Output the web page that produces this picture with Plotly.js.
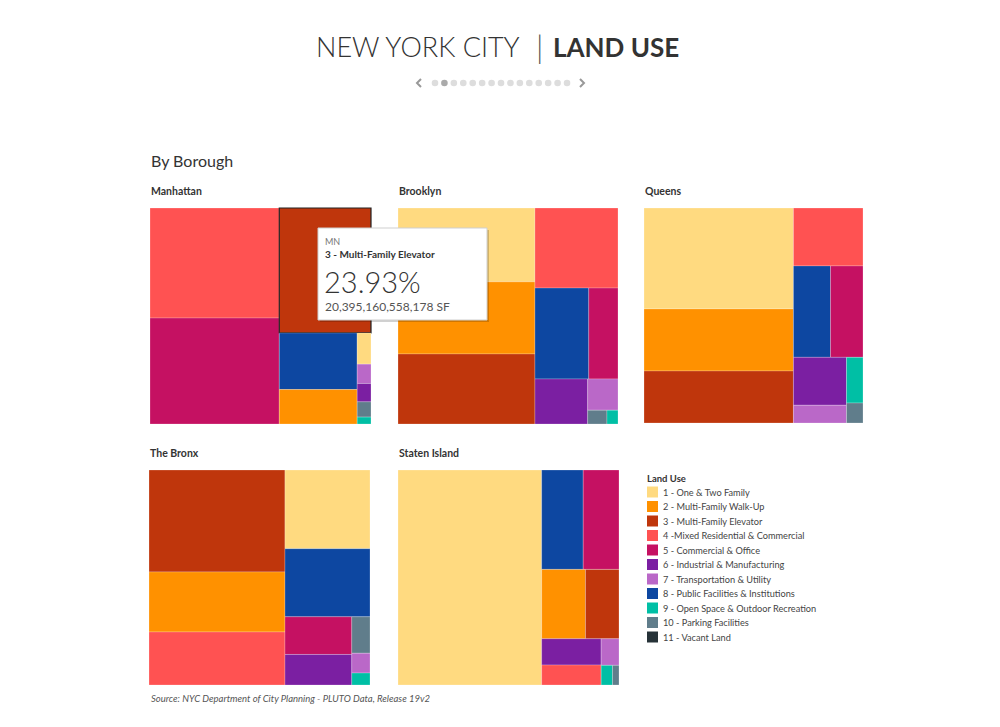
<!DOCTYPE html>
<html>
<head>
<meta charset="utf-8">
<script src="https://cdn.plot.ly/plotly-3.0.1.min.js"></script>
<style>html,body{margin:0;padding:0;background:#fff;}#chart{width:1000px;height:727px;}</style>
</head>
<body>
<div id="chart"></div>
<script>
// ---- Data ----
const landUse = [
  "1 - One & Two Family",
  "2 - Multi-Family Walk-Up",
  "3 - Multi-Family Elevator",
  "4 -Mixed Residential & Commercial",
  "5 - Commercial & Office",
  "6 - Industrial & Manufacturing",
  "7 - Transportation & Utility",
  "8 - Public Facilities & Institutions",
  "9 - Open Space & Outdoor Recreation",
  "10 - Parking Facilities",
  "11 - Vacant Land"
];
const landUseColors = ["#FFDA80","#FF9100","#BF360C","#FF5252","#C51162","#7B1FA2","#BA68C8","#0D47A1","#00BFA5","#607D8B","#263238"];
const boroughs = ["Manhattan","Brooklyn","Queens","The Bronx","Staten Island"];
// share of floor area (%) by land use 1..11, per borough
const manhattan    = [0.9, 5.6, 23.93, 29.7, 28.6, 0.53, 0.56, 9.2, 0.2, 0.44, 0];
const brooklyn     = [21.3, 20.8, 20.2, 14.0, 5.6, 5.0, 2.0, 10.3, 0.32, 0.56, 0];
const queens       = [32.0, 19.7, 16.5, 8.55, 6.3, 5.4, 2.0, 7.2, 1.6, 0.7, 0];
const bronx        = [14.1, 17.2, 29.2, 15.2, 5.3, 4.3, 0.76, 12.2, 0.46, 1.4, 0];
const statenIsland = [65.1, 6.4, 4.9, 2.5, 7.5, 3.3, 1.0, 8.7, 0.47, 0.27, 0];
const boroughValues = [manhattan, brooklyn, queens, bronx, statenIsland];
const tooltipLines = ["MN", "3 - Multi-Family Elevator", "23.93%", "20,395,160,558,178 SF"];

// ---- Layout (pixel boxes for each treemap) ----
const W = 1000, H = 727;
const boxes = [
  [150, 208, 371, 424],
  [398, 208, 618, 424],
  [644, 208, 863, 423],
  [149, 470, 370, 685],
  [398, 470, 619, 685]
];
const px = x => x / W, py = y => 1 - y / H;
const FONT = "Lato, 'Noto Sans', sans-serif";

const traces = boroughs.map((b, bi) => {
  const vals = boroughValues[bi];
  const lab = [], val = [], col = [], lc = [], lw = [];
  vals.forEach((v, i) => {
    if (v > 0) {
      lab.push(landUse[i]); val.push(v); col.push(landUseColors[i]);
      const hl = (bi === 0 && i === 2);
      lc.push(hl ? "#222" : "rgba(255,255,255,0.28)");
      lw.push(hl ? 1.2 : 0.8);
    }
  });
  const bx = boxes[bi];
  return {
    type: "treemap",
    labels: lab,
    parents: lab.map(() => ""),
    values: val,
    sort: true,
    textinfo: "none",
    hovertemplate: b + "<br>%{label}<br>%{value:.2f}%<extra></extra>",
    marker: {colors: col, line: {color: lc, width: lw}, pad: {t: 0, l: 0, r: 0, b: 0}},
    tiling: {packing: "squarify", squarifyratio: 1.618034, pad: 0},
    pathbar: {visible: false},
    domain: {x: [px(bx[0]), px(bx[2])], y: [py(bx[3]), py(bx[1])]}
  };
});

const annotations = [];
const shapes = [];

// Title
annotations.push({xref: "paper", yref: "paper", x: px(522), y: py(47), xanchor: "right", yanchor: "middle",
  text: "NEW YORK CITY", showarrow: false, font: {family: FONT, size: 27, color: "#333", weight: 300}});
annotations.push({xref: "paper", yref: "paper", x: px(539), y: py(46), xanchor: "center", yanchor: "middle",
  text: "|", showarrow: false, font: {family: FONT, size: 31, color: "#555", weight: 300}});
annotations.push({xref: "paper", yref: "paper", x: px(551), y: py(47), xanchor: "left", yanchor: "middle",
  text: "<b>LAND USE</b>", showarrow: false, font: {family: FONT, size: 26, color: "#333"}});

// Pagination
shapes.push({type: "path", xref: "paper", yref: "paper",
  path: `M ${px(421)} ${py(79)} L ${px(417)} ${py(83)} L ${px(421)} ${py(87)}`,
  line: {color: "#999", width: 2}});
shapes.push({type: "path", xref: "paper", yref: "paper",
  path: `M ${px(580)} ${py(79)} L ${px(584)} ${py(83)} L ${px(580)} ${py(87)}`,
  line: {color: "#999", width: 2}});
for (let i = 0; i < 15; i++) {
  const cx = 435 + i * 9.43, r = 3.3;
  shapes.push({type: "circle", xref: "paper", yref: "paper", x0: px(cx - r), x1: px(cx + r), y0: py(83 + r), y1: py(83 - r),
    fillcolor: i === 1 ? "#aaaaaa" : "#dddddd", line: {width: 0}});
}

// Section title
annotations.push({xref: "paper", yref: "paper", x: px(149), y: py(160), xanchor: "left", yanchor: "middle",
  text: "By Borough", showarrow: false, font: {family: FONT, size: 16, color: "#333"}});

// Borough labels
boroughs.forEach((b, bi) => {
  const bx = boxes[bi];
  annotations.push({xref: "paper", yref: "paper", x: px(bx[0] - 1), y: py(bx[1] - 17), xanchor: "left", yanchor: "middle",
    text: "<b>" + b + "</b>", showarrow: false, font: {family: FONT, size: 10.5, color: "#333"}});
});

// Legend
annotations.push({xref: "paper", yref: "paper", x: px(645), y: py(478), xanchor: "left", yanchor: "middle",
  text: "<b>Land Use</b>", showarrow: false, font: {family: FONT, size: 9.5, color: "#333"}});
landUse.forEach((l, i) => {
  const y = 492 + i * 14.5;
  shapes.push({type: "rect", xref: "paper", yref: "paper", x0: px(647), x1: px(658), y0: py(y + 5.5), y1: py(y - 5.5),
    fillcolor: landUseColors[i], line: {width: 0}});
  annotations.push({xref: "paper", yref: "paper", x: px(661), y: py(y), xanchor: "left", yanchor: "middle",
    text: l, showarrow: false, font: {family: FONT, size: 9.2, color: "#444"}});
});

// Source
annotations.push({xref: "paper", yref: "paper", x: px(149), y: py(698), xanchor: "left", yanchor: "middle",
  text: "<i>Source: NYC Department of City Planning - PLUTO Data, Release 19v2</i>", showarrow: false,
  font: {family: FONT, size: 9.5, color: "#555"}});

// Tooltip
shapes.push({type: "rect", xref: "paper", yref: "paper", x0: px(320), x1: px(489), y0: py(322), y1: py(230),
  fillcolor: "rgba(0,0,0,0.18)", line: {width: 0}});
shapes.push({type: "rect", xref: "paper", yref: "paper", x0: px(318), x1: px(487), y0: py(320), y1: py(228),
  fillcolor: "#ffffff", line: {color: "#cfcfcf", width: 1}});
annotations.push({xref: "paper", yref: "paper", x: px(323), y: py(241), xanchor: "left", yanchor: "middle",
  text: tooltipLines[0], showarrow: false, font: {family: FONT, size: 9, color: "#777"}});
annotations.push({xref: "paper", yref: "paper", x: px(323), y: py(254), xanchor: "left", yanchor: "middle",
  text: "<b>" + tooltipLines[1] + "</b>", showarrow: false, font: {family: FONT, size: 10, color: "#333"}});
annotations.push({xref: "paper", yref: "paper", x: px(322), y: py(281), xanchor: "left", yanchor: "middle",
  text: tooltipLines[2], showarrow: false, font: {family: FONT, size: 29, color: "#333", weight: 300}});
annotations.push({xref: "paper", yref: "paper", x: px(323), y: py(306), xanchor: "left", yanchor: "middle",
  text: tooltipLines[3], showarrow: false, font: {family: FONT, size: 12, color: "#555"}});

const layout = {
  width: W, height: H,
  margin: {l: 0, r: 0, t: 0, b: 0},
  paper_bgcolor: "#ffffff",
  showlegend: false,
  annotations: annotations,
  shapes: shapes,
  font: {family: FONT}
};

Plotly.newPlot("chart", traces, layout, {displayModeBar: false, staticPlot: true});
</script>
</body>
</html>
